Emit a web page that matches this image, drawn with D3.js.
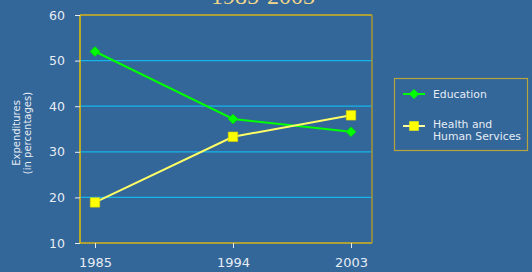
<!DOCTYPE html>
<html>
<head>
<meta charset="utf-8">
<script src="https://cdn.jsdelivr.net/npm/d3@7"></script>
<style>
  body { margin: 0; background: #336699; }
  svg { display: block; }
</style>
</head>
<body>
<div id="main"></div>
<script>
var width = 532;
var height = 272;

var years = [1985, 1994, 2003];
var education = [52.0, 37.2, 34.4];
var health = [18.9, 33.3, 38.0];
var yTicks = [10, 20, 30, 40, 50, 60];
var gridTicks = [20, 30, 40, 50];

var PLOT = {left: 80, right: 372, top: 15, bottom: 243};

var svg = d3.select("#main")
  .append("svg")
  .attr("width", width)
  .attr("height", height);

svg.append("rect")
  .attr("width", width)
  .attr("height", height)
  .attr("fill", "#336699");

// title, mostly cut off at the top (as in the original)
svg.append("text")
  .attr("x", 263)
  .attr("y", 4)
  .attr("text-anchor", "middle")
  .attr("font-family", "Liberation Serif, serif")
  .attr("font-size", 24)
  .attr("fill", "#f2d68a")
  .text("1985-2003");

// piecewise scale, the original spaces the years unevenly
var x = d3.scaleLinear()
  .domain(years)
  .range([95, 233, 351]);

var y = d3.scaleLinear()
  .domain([10, 60])
  .range([PLOT.bottom, PLOT.top]);

// grid lines
svg.selectAll(".grid")
  .data(gridTicks)
  .enter()
  .append("line")
  .attr("x1", PLOT.left)
  .attr("x2", PLOT.right)
  .attr("y1", function(d){ return y(d); })
  .attr("y2", function(d){ return y(d); })
  .attr("stroke", "#17b4ea")
  .attr("stroke-width", 1.2);

// plot frame
svg.append("line")
  .attr("x1", PLOT.left).attr("x2", PLOT.right)
  .attr("y1", PLOT.top).attr("y2", PLOT.top)
  .attr("stroke", "#d8b418").attr("stroke-width", 1.3);
svg.append("line")
  .attr("x1", PLOT.left).attr("x2", PLOT.right)
  .attr("y1", PLOT.bottom).attr("y2", PLOT.bottom)
  .attr("stroke", "#d8b418").attr("stroke-width", 1.5);
svg.append("line")
  .attr("x1", PLOT.left).attr("x2", PLOT.left)
  .attr("y1", PLOT.top).attr("y2", PLOT.bottom)
  .attr("stroke", "#e8c000").attr("stroke-width", 1.5);
svg.append("line")
  .attr("x1", PLOT.right).attr("x2", PLOT.right)
  .attr("y1", PLOT.top).attr("y2", PLOT.bottom)
  .attr("stroke", "#a89434").attr("stroke-width", 1.5);

// y axis
var yAxis = svg.append("g")
  .attr("transform", "translate(" + PLOT.left + ",0)")
  .call(d3.axisLeft(y).tickValues(yTicks).tickSize(5).tickPadding(10).tickFormat(d3.format("d")));
yAxis.select(".domain").remove();
yAxis.selectAll("line").attr("stroke", "#e6edf5");
yAxis.selectAll("text")
  .attr("fill", "#e6edf5")
  .attr("font-family", "DejaVu Sans, sans-serif")
  .attr("font-size", 12.5);

// x axis
var xAxis = svg.append("g")
  .attr("transform", "translate(0," + PLOT.bottom + ")")
  .call(d3.axisBottom(x).tickValues(years).tickSize(5).tickPadding(10).tickFormat(d3.format("d")));
xAxis.select(".domain").remove();
xAxis.selectAll("line").attr("stroke", "#e6edf5");
xAxis.selectAll("text")
  .attr("fill", "#e6edf5")
  .attr("font-family", "DejaVu Sans, sans-serif")
  .attr("font-size", 13);

// y axis title
var yTitle = svg.append("text")
  .attr("transform", "translate(20,133) rotate(-90)")
  .attr("text-anchor", "middle")
  .attr("font-family", "DejaVu Sans, sans-serif")
  .attr("font-size", 10)
  .attr("fill", "#e6edf5");
yTitle.append("tspan").attr("x", 0).attr("dy", 0).text("Expenditures");
yTitle.append("tspan").attr("x", 0).attr("dy", 11).text("(in percentages)");

// lines
var line = d3.line()
  .x(function(d, i){ return x(years[i]); })
  .y(function(d){ return y(d); });

svg.append("path")
  .datum(education)
  .attr("d", line)
  .attr("fill", "none")
  .attr("stroke", "#00ff00")
  .attr("stroke-width", 2);

svg.append("path")
  .datum(health)
  .attr("d", line)
  .attr("fill", "none")
  .attr("stroke", "#ffff66")
  .attr("stroke-width", 2);

var diamond = d3.symbol().type(d3.symbolSquare).size(50);
var square = d3.symbol().type(d3.symbolSquare).size(90);

svg.selectAll(".edu")
  .data(education)
  .enter()
  .append("path")
  .attr("d", diamond)
  .attr("transform", function(d, i){ return "translate(" + x(years[i]) + "," + y(d) + ") rotate(45)"; })
  .attr("fill", "#00ff00")
  .attr("stroke", "#00d000")
  .attr("stroke-width", 0.6);

svg.selectAll(".hhs")
  .data(health)
  .enter()
  .append("path")
  .attr("d", square)
  .attr("transform", function(d, i){ return "translate(" + x(years[i]) + "," + y(d) + ")"; })
  .attr("fill", "#ffff00")
  .attr("stroke", "#d8d000")
  .attr("stroke-width", 0.6);

// legend
var legend = svg.append("g");
legend.append("rect")
  .attr("x", 394.5).attr("y", 78.5)
  .attr("width", 133).attr("height", 72)
  .attr("fill", "none")
  .attr("stroke", "#b8a43c")
  .attr("stroke-width", 1.2);

legend.append("line")
  .attr("x1", 403).attr("x2", 425)
  .attr("y1", 94).attr("y2", 94)
  .attr("stroke", "#00ff00").attr("stroke-width", 2);
legend.append("path")
  .attr("d", diamond)
  .attr("transform", "translate(414,94) rotate(45)")
  .attr("fill", "#00ff00");
legend.append("text")
  .attr("x", 433).attr("y", 98)
  .attr("font-family", "DejaVu Sans, sans-serif")
  .attr("font-size", 10.8)
  .attr("fill", "#e6edf5")
  .text("Education");

legend.append("line")
  .attr("x1", 403).attr("x2", 425)
  .attr("y1", 126).attr("y2", 126)
  .attr("stroke", "#ffffa0").attr("stroke-width", 2);
legend.append("path")
  .attr("d", square)
  .attr("transform", "translate(414,126)")
  .attr("fill", "#ffff00");
var hText = legend.append("text")
  .attr("x", 433).attr("y", 128)
  .attr("font-family", "DejaVu Sans, sans-serif")
  .attr("font-size", 10.8)
  .attr("fill", "#e6edf5");
hText.append("tspan").attr("x", 433).attr("dy", 0).text("Health and");
hText.append("tspan").attr("x", 433).attr("dy", 11.5).text("Human Services");
</script>
</body>
</html>
